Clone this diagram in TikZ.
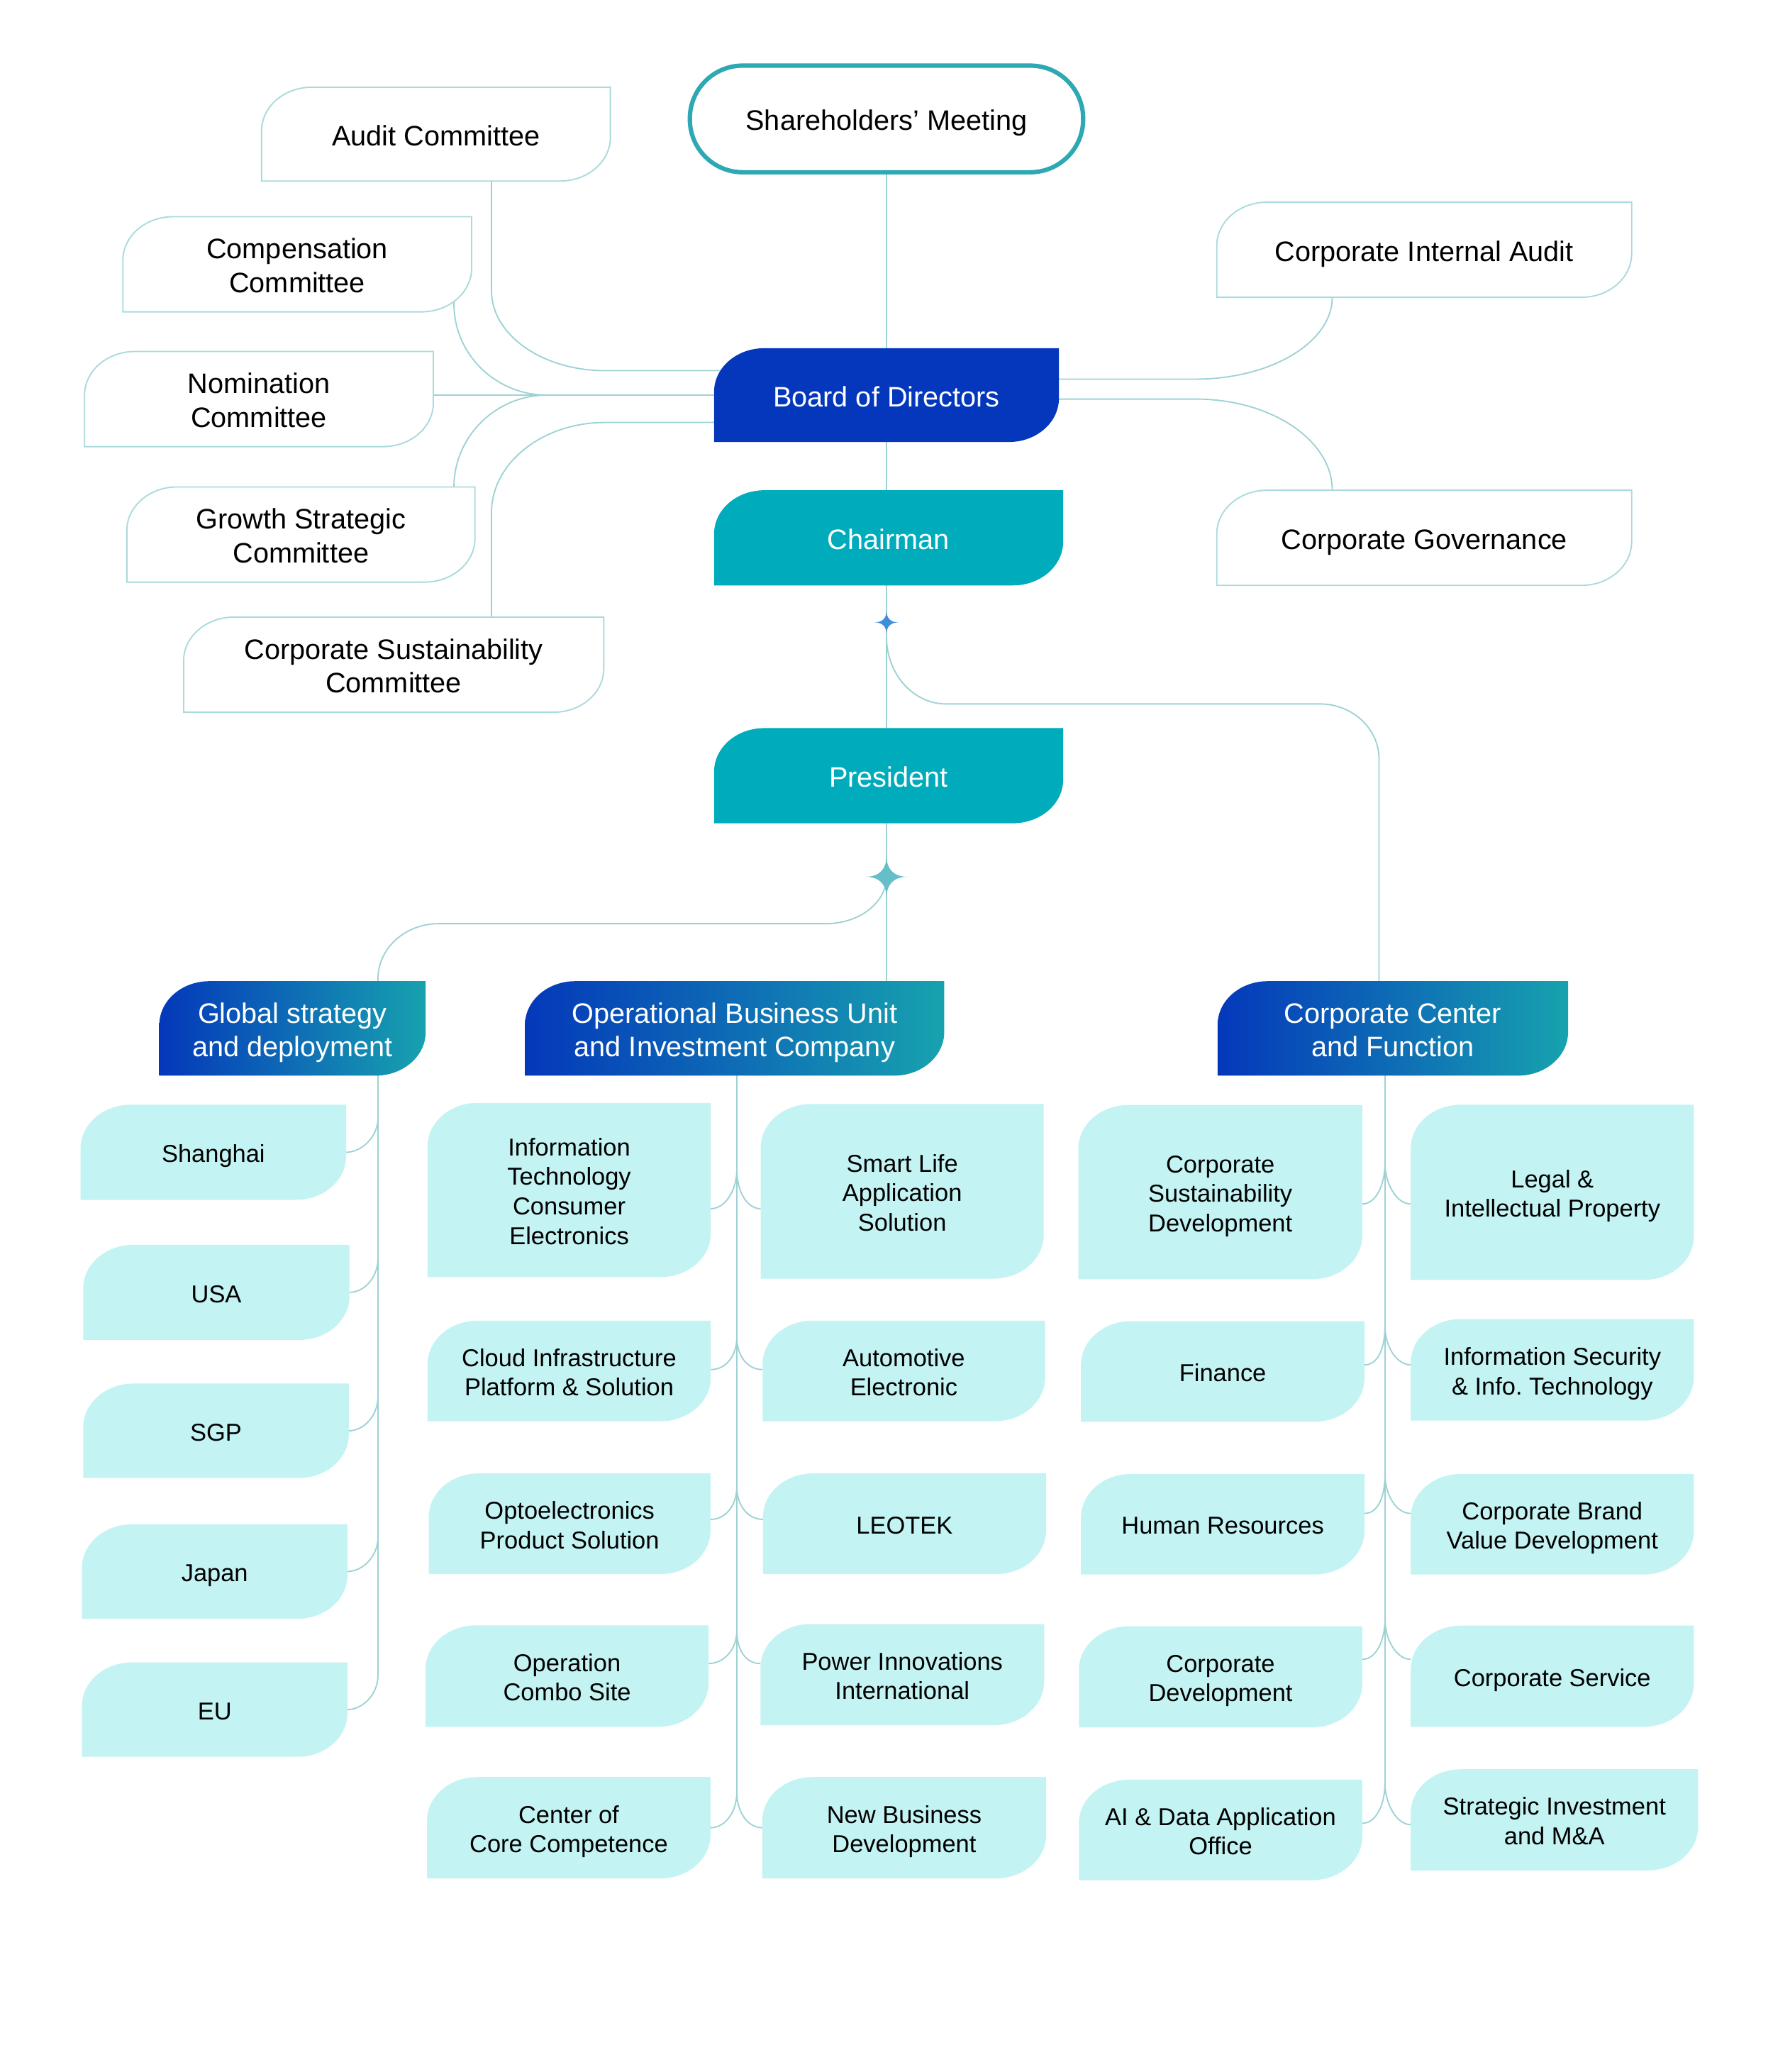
\documentclass[tikz,border=0pt]{standalone}
\usepackage{fontspec}
\setmainfont{Liberation Sans}
\usetikzlibrary{backgrounds}
\frenchspacing
\definecolor{boardC}{HTML}{0437BB}
\definecolor{tealC}{HTML}{00ACBC}
\definecolor{leafC}{HTML}{C4F3F3}
\definecolor{hdrL}{HTML}{0438BA}
\definecolor{hdrM}{HTML}{0E6CB5}
\definecolor{hdrR}{HTML}{17A2AF}
\definecolor{lineC}{HTML}{9DD2D5}
\definecolor{cbord}{HTML}{A9DADC}
\definecolor{shC}{HTML}{2EA8B3}
\definecolor{starA}{HTML}{3F8FD8}
\definecolor{starB}{HTML}{64BFC8}
\newcommand\stb{\rule{0pt}{22.2pt}}
\newcommand\sts{\rule{0pt}{19.7pt}}
\newcommand\leafshape[2]{%
  \path[#2] ([xshift=38pt]#1.north west) -- (#1.north east) -- ([yshift=33pt]#1.south east)
    arc[start angle=0,end angle=-90,x radius=38pt,y radius=33pt] -- (#1.south west) -- ([yshift=-33pt]#1.north west)
    arc[start angle=180,end angle=90,x radius=38pt,y radius=33pt] -- cycle;}
\newcommand\fourstar[3]{%
  \fill[#3,shift={(#1.center)}] (0,#2) .. controls (0,0.35*#2) and (0.35*#2,0) .. (#2,0)
    .. controls (0.35*#2,0) and (0,-0.35*#2) .. (0,-#2)
    .. controls (0,-0.35*#2) and (-0.35*#2,0) .. (-#2,0)
    .. controls (-0.35*#2,0) and (0,0.35*#2) .. (0,#2) -- cycle;}
\newcommand\brL[3]{\draw[conn] (#1,-#2) to[out=-90,in=0,out distance=15pt,in distance=11pt] (#3);}
\newcommand\brR[3]{\draw[conn] (#1,-#2) to[out=-90,in=180,out distance=15pt,in distance=11pt] (#3);}
\tikzset{
  nbase/.style={inner sep=0pt,outer sep=0pt,align=center},
  bigf/.style={font=\fontsize{21.3}{25.4}\selectfont,
    execute at begin node={\stb},
    execute at end node={\rule[-5pt]{0pt}{5pt}}},
  smallf/.style={font=\fontsize{18.5}{22.3}\selectfont,
    execute at begin node={\sts},
    execute at end node={\rule[-4.5pt]{0pt}{4.5pt}}},
  sz/.style 2 args={minimum width=#1pt,minimum height=#2pt},
  comm/.style={nbase,bigf,text=black},
  topbox/.style={nbase,bigf,text=white},
  hdr/.style={nbase,bigf,text=white},
  lbox/.style={nbase,smallf,text=black},
  conn/.style={draw=lineC,line width=1pt},
  commfill/.style={fill=white,draw=cbord,line width=1pt},
  hdrshade/.style={shade,left color=hdrL,right color=hdrR,middle color=hdrM},
  shb/.style={nbase,bigf,draw=shC,line width=3.3pt,fill=white,rounded corners=40pt,minimum width=297.7pt,minimum height=80.7pt},
  starpt/.style={inner sep=0pt,minimum size=1pt}
}
\begin{document}
\begin{tikzpicture}[x=1pt,y=1pt]
\useasboundingbox (0,0) rectangle (1342,-1568);
% committees
\node[comm,sz={264}{71}] (audit) at (330,-101.5) {Audit Committee};
\node[comm,sz={264}{72}] (comp) at (225,-200) {\stb Compensation\\Committee};
\node[comm,sz={264}{72}] (nom) at (196,-302) {\stb Nomination\\Committee};
\node[comm,sz={263.5}{72}] (growth) at (227.75,-404.5) {\stb Growth Strategic\\Committee};
\node[comm,sz={318}{72}] (sust) at (298,-503) {\stb Corporate Sustainability\\Committee};
\node[comm,sz={314}{72}] (cia) at (1078,-189) {Corporate Internal Audit};
\node[comm,sz={314}{72}] (gov) at (1078,-407) {Corporate Governance};
% main chain
\node[shb] (sh) at (671,-90) {Shareholders’ Meeting};
\node[topbox,sz={261}{71}] (board) at (671,-299) {Board of Directors};
\node[topbox,sz={264.2}{72}] (chair) at (672.6,-407) {Chairman};
\node[topbox,sz={264.2}{72}] (pres) at (672.6,-587) {President};
\node[starpt] (s1) at (671,-471) {};
\node[starpt] (s2) at (671,-663.5) {};
% headers
\node[hdr,sz={201.6}{71.5}] (gsd) at (221.4,-778.25) {\stb Global strategy\\and deployment};
\node[hdr,sz={317.3}{71.5}] (ops) at (556.05,-778.25) {\stb Operational Business Unit\\and Investment Company};
\node[hdr,sz={265.3}{71.5}] (ccf) at (1054.25,-778.25) {\stb Corporate Center\\and Function};
% global
\node[lbox,sz={201}{72}] (sha) at (161.5,-872) {Shanghai};
\node[lbox,sz={201.5}{72}] (usa) at (163.75,-978) {USA};
\node[lbox,sz={201}{71.5}] (sgp) at (163.5,-1082.75) {SGP};
\node[lbox,sz={201}{71.5}] (jpn) at (162.5,-1189.25) {Japan};
\node[lbox,sz={201}{71.5}] (eu) at (162.5,-1293.75) {EU};
% operational
\node[lbox,sz={214.4}{131.8}] (itce) at (430.8,-900.5) {\sts Information\\Technology\\Consumer\\Electronics};
\node[lbox,sz={214.4}{76.1}] (cloud) at (430.8,-1037.45) {\sts Cloud Infrastructure\\Platform \& Solution};
\node[lbox,sz={213.3}{76.2}] (opto) at (431.15,-1153.1) {\sts Optoelectronics\\Product Solution};
\node[lbox,sz={214.2}{76.7}] (combo) at (429.2,-1268.35) {\sts Operation\\Combo Site};
\node[lbox,sz={214.6}{76.7}] (core) at (430.5,-1383.15) {\sts Center of\\Core Competence};
\node[lbox,sz={214.2}{132.1}] (smart) at (682.9,-901.55) {\sts Smart Life\\Application\\Solution};
\node[lbox,sz={213.8}{76.1}] (auto) at (684.1,-1037.45) {\sts Automotive\\Electronic};
\node[lbox,sz={214.3}{76.2}] (leo) at (684.65,-1153.1) {LEOTEK};
\node[lbox,sz={214.7}{76.5}] (power) at (682.95,-1267.25) {\sts Power Innovations\\International};
\node[lbox,sz={214.8}{76.7}] (newbiz) at (684.4,-1383.15) {\sts New Business\\Development};
% corporate center
\node[lbox,sz={214.9}{131.9}] (csd) at (923.65,-902.15) {\sts Corporate\\Sustainability\\Development};
\node[lbox,sz={214.6}{76.1}] (fin) at (925.5,-1037.85) {Finance};
\node[lbox,sz={214.6}{76.1}] (hr) at (925.5,-1153.45) {Human Resources};
\node[lbox,sz={214.5}{76.5}] (cdev) at (923.85,-1268.95) {\sts Corporate\\Development};
\node[lbox,sz={214.5}{76}] (ai) at (923.85,-1384.8) {\sts AI \& Data Application\\Office};
\node[lbox,sz={214.3}{132.6}] (legal) at (1174.95,-902.3) {\sts Legal \&\\Intellectual Property};
\node[lbox,sz={214.3}{76.8}] (infosec) at (1174.95,-1036.6) {\sts Information Security\\\& Info. Technology};
\node[lbox,sz={214.3}{76.1}] (brand) at (1174.95,-1153.45) {\sts Corporate Brand\\Value Development};
\node[lbox,sz={214.3}{76.5}] (csvc) at (1174.95,-1268.45) {Corporate Service};
\node[lbox,sz={217.5}{76.5}] (si) at (1176.55,-1377.15) {\sts Strategic Investment\\and M\&A};

\begin{scope}[on background layer]
\fill[white] (0,0) rectangle (1342,-1568);
% spine
\draw[conn] (sh.south) -- (board.north);
\draw[conn] (board.south) -- (board.south |- chair.north);
\draw[conn] (board.south |- chair.south) -- (s1.center);
\draw[conn] (s1.center) -- (s1.center |- pres.north);
\draw[conn] (s1.center |- pres.south) -- (s2.center);
\draw[conn] (s2.center) -- (s2.center |- ops.north);
% committees to board
\draw[conn] ([xshift=42pt]audit.south) -- (372,-220) to[out=-90,in=180,out distance=33.4pt,in distance=47.5pt] (458,-280.5) -- ([yshift=18.5pt]board.center);
\draw[conn] ([xshift=118.6pt]comp.center) -- (343.6,-230) to[out=-90,in=180,out distance=38pt,in distance=38.9pt] (414,-299) -- (board.center);
\draw[conn] ([yshift=3pt]nom.east) -- (board.center);
\draw[conn] ([xshift=115.85pt]growth.center) -- (343.6,-368.5) to[out=90,in=180,out distance=38pt,in distance=38.9pt] (414,-299);
\draw[conn] ([xshift=74pt]sust.center) -- (372,-388) to[out=90,in=180,out distance=37.7pt,in distance=47.5pt] (458,-319.7) -- ([yshift=-20.7pt]board.center);
\draw[conn] ([yshift=12.1pt]board.center) -- (905,-286.9) to[out=0,in=-90,out distance=57pt,in distance=34pt] (1008.4,-225) -- ([xshift=-69.6pt]cia.center);
\draw[conn] ([yshift=-3pt]board.center) -- (905,-302) to[out=0,in=90,out distance=57pt,in distance=38pt] (1008.4,-371) -- ([xshift=-69.6pt]gov.center);
% chairman star to corporate center
\draw[conn] (s1.center) -- (671,-482) to[out=-90,in=180,out distance=28pt,in distance=24.8pt] (716,-532.7) -- (999,-532.7) to[out=0,in=90,out distance=24.7pt,in distance=23pt] (1043.8,-574.4) -- ([xshift=-10.45pt]ccf.center);
% president star to global
\draw[conn] (s2.center) to[out=-90,in=0,out distance=19.6pt,in distance=25.4pt] (625,-699) -- (332,-699) to[out=180,in=90,out distance=25.3pt,in distance=23pt] (286.1,-740.6) -- ([xshift=64.7pt]gsd.center);
% global branches
\draw[conn] ([xshift=64.7pt]gsd.center) -- (286.1,-1267.75);
\brL{286.1}{846}{sha.east}
\brL{286.1}{952}{usa.east}
\brL{286.1}{1056.75}{sgp.east}
\brL{286.1}{1163.25}{jpn.east}
\brL{286.1}{1267.75}{eu.east}
% operational branches
\draw[conn] ([xshift=1.65pt]ops.center) -- (557.7,-1356.3);
\brL{557.7}{885.4}{[yshift=-14.2pt]itce.east}
\brR{557.7}{885.4}{[yshift=-13.15pt]smart.west}
\brL{557.7}{1011.7}{[yshift=1pt]cloud.east}
\brR{557.7}{1011.7}{[yshift=1pt]auto.west}
\brL{557.7}{1124.9}{[yshift=3.3pt]opto.east}
\brR{557.7}{1124.9}{[yshift=3.3pt]leo.west}
\brL{557.7}{1233.9}{[yshift=9.45pt]combo.east}
\brR{557.7}{1233.9}{[yshift=8.35pt]power.west}
\brL{557.7}{1356.3}{core.east}
\brR{557.7}{1356.3}{newbiz.west}
% corporate branches
\draw[conn] ([xshift=-5.95pt]ccf.center) -- (1048.3,-1349.5);
\brL{1048.3}{880.3}{[yshift=-8.95pt]csd.east}
\brR{1048.3}{880.3}{[yshift=-8.8pt]legal.west}
\brL{1048.3}{1003.6}{[yshift=5pt]fin.east}
\brR{1048.3}{1003.6}{[yshift=3.8pt]infosec.west}
\brL{1048.3}{1116}{[yshift=8.15pt]hr.east}
\brR{1048.3}{1116}{[yshift=8.15pt]brand.west}
\brL{1048.3}{1225.4}{[yshift=13.25pt]cdev.east}
\brR{1048.3}{1225.4}{[yshift=12.75pt]csvc.west}
\brL{1048.3}{1349.5}{[yshift=5pt]ai.east}
\brR{1048.3}{1349.5}{[yshift=-3.65pt]si.west}
% shapes
\foreach \n in {audit,comp,nom,growth,sust,cia,gov}{\leafshape{\n}{commfill}}
\leafshape{board}{fill=boardC}
\leafshape{chair}{fill=tealC}
\leafshape{pres}{fill=tealC}
\foreach \n in {gsd,ops,ccf}{\leafshape{\n}{hdrshade}}
\foreach \n in {sha,usa,sgp,jpn,eu,itce,cloud,opto,combo,core,smart,auto,leo,power,newbiz,csd,fin,hr,cdev,ai,legal,infosec,brand,csvc,si}{\leafshape{\n}{fill=leafC}}
\fourstar{s1}{9}{starA}
\fourstar{s2}{16}{starB}
\end{scope}
\end{tikzpicture}
\end{document}
